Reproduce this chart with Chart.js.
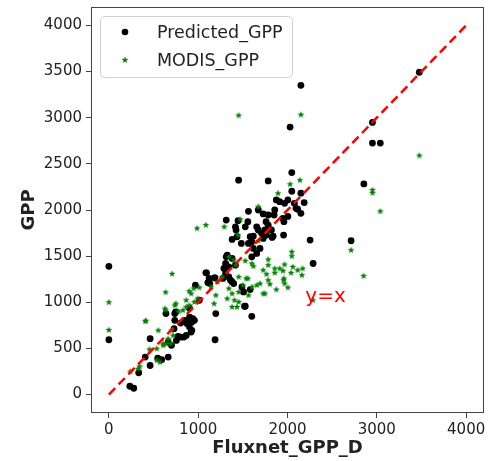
<!DOCTYPE html>
<html>
<head>
<meta charset="utf-8">
<script src="https://cdn.jsdelivr.net/npm/chart.js@4"></script>
<style>
  html, body { margin: 0; padding: 0; background: #fff; }
  canvas { display: block; }
</style>
</head>
<body>
<canvas id="scatter" width="489" height="461"></canvas>
<script>
const xTicks = [0, 1000, 2000, 3000, 4000];
const yTicks = [0, 500, 1000, 1500, 2000, 2500, 3000, 3500, 4000];
const seriesLabels = ['Predicted_GPP', 'MODIS_GPP'];
const refLine = [[0, 0], [4000, 4000]];

// Fluxnet_GPP_D vs predicted
const predictedGPP = [
  [0,1390],[0,594],[235,90],[279,68],[334,236],[407,406],[462,315],[462,605],[547,395],[591,377],[664,406],[1189,594],
  [639,877],[738,877],[738,804],[804,775],[848,804],[921,822],[958,804],[903,731],[921,677],[866,641],[811,623],[756,587],
  [701,533],[664,569],[903,840],[939,822],[730,714],[749,895],[877,768],[929,786],[929,696],[840,623],[774,630],[969,1185],
  [1013,1022],[903,935],[1197,877],
  [1093,1319],[1123,1258],[1182,1265],[1108,1214],[1086,1319],[1130,1203],[1189,1265],
  [1325,1511],[1307,1420],[1417,1402],[1343,1384],[1288,1366],[1314,1493],[1380,1475],[1307,1312],[1277,1258],[1343,1275],
  [1362,1239],[1398,1203],[1380,1221],[1490,1166],[1508,1112],[1582,1138],[1527,957],[1519,957],[1600,848],
  [1380,1681],[1483,1638],[1582,1710],[1600,1656],[1710,1747],[1728,1692],[1765,1728],[1828,1703],[1956,1728],[1435,1710],
  [1618,1717],[1839,1717],[1563,1638],[1655,1529],[1692,1584],[1618,1584],[1600,1493],
  [1417,1818],[1424,1783],[1527,1818],[1655,1818],[1673,1783],[1760,1873],[1784,1836],[1747,1783],[1820,1783],
  [1314,1891],[1446,1884],[1556,1873],[1563,1986],[1673,2000],[1728,1957],[1784,1946],[1857,2000],[1850,1946],[1949,1909],[1960,1873],
  [1875,2109],[1912,2090],[1967,2072],[2004,2109],[2077,2072],[2095,2018],[2150,1964],[2048,2203],[2114,2008],[2187,2080],[2150,2182],[2004,1930],
  [2253,1674],[2287,1420],
  [1453,2323],[1784,2315],[2048,2406],[2029,2899],[2150,3351],[2855,2283],[2951,2725],[3039,2725],[2951,2949],[3476,3493],[2712,1667]
];

// Fluxnet_GPP_D vs MODIS
const modisGPP = [
  [0,1000],[0,700],[242,250],[327,279],[345,305],[415,801],[455,489],[407,793],[554,696],[536,497],[609,551],[536,370],[573,351],
  [628,931],[635,1109],[635,913],[708,1308],[738,967],[749,986],[701,696],[719,641],[664,605],[646,551],[694,551],[609,533],
  [780,900],[829,913],[866,949],[903,967],[921,1094],[958,1003],[994,1040],[866,1022],[900,1120],[950,1150],[1013,1160],[987,1801],[1086,1837],
  [1142,1166],[1197,1076],[1178,986],[1270,1275],[1215,1221],[1343,1149],[1380,1094],[1325,1040],[1453,1003],[1435,949],[1380,949],[1406,1022],
  [1292,1818],[1446,1728],[1472,1898],[1673,2036],[1894,2181],[1673,1666],
  [1343,1493],[1398,1457],[1424,1402],[1527,1449],[1600,1420],[1618,1391],[1784,1464],[1784,1402],[1967,1410],[1857,1366],[1857,1319],
  [1912,1366],[2059,1384],[2169,1366],[2114,1348],[2161,1294],[1728,1348],[1765,1304],[1949,1341],[2040,1319],[1538,1258],[1501,1185],
  [1692,1203],[1655,1185],[1956,1239],[1967,1203],[1802,1196],[1875,1138],[2004,1160],[1728,1094],[1563,1076],[1600,1166],[1453,1112],
  [1784,1239],[1960,1258],[1556,1258],[1453,1275],[1747,1094],[2048,1547],[2048,1500],
  [2029,2279],[2139,2323],[1453,3025],[2150,3033],[2951,2217],[2951,2185],[3039,1986],[3476,2590],[2712,1565],[2852,1286],[2283,1022]
];

const FONT = 'DejaVu Sans';
const INK = '#222';

function toXY(arr) {
  return arr.map(p => ({x: p[0], y: p[1]}));
}

// filled 5 point star, matplotlib '*'
function makeStar(r, color) {
  const c = document.createElement('canvas');
  const s = Math.ceil(r * 2 + 2);
  c.width = s; c.height = s;
  const g = c.getContext('2d');
  g.fillStyle = color;
  g.beginPath();
  for (let i = 0; i < 10; i++) {
    const rad = i % 2 === 0 ? r : r * 0.42;
    const a = -Math.PI / 2 + i * Math.PI / 5;
    const px = s / 2 + rad * Math.cos(a), py = s / 2 + rad * Math.sin(a);
    if (i === 0) g.moveTo(px, py); else g.lineTo(px, py);
  }
  g.closePath();
  g.fill();
  return c;
}
const star = makeStar(3.6, '#008000');

const extras = {
  id: 'extras',
  afterDraw(chart) {
    const {ctx, chartArea: a, scales} = chart;
    ctx.save();
    // spines
    ctx.strokeStyle = '#444';
    ctx.lineWidth = 1;
    ctx.strokeRect(a.left + 0.5, a.top + 0.5, a.right - a.left - 1, a.bottom - a.top - 1);
    // y=x annotation
    ctx.fillStyle = 'red';
    ctx.font = '20px "' + FONT + '"';
    ctx.textAlign = 'left';
    ctx.textBaseline = 'alphabetic';
    ctx.fillText('y=x', scales.x.getPixelForValue(2200), scales.y.getPixelForValue(1000));
    // legend
    const bx = 100, by = 16, bw = 192, bh = 61;
    ctx.beginPath();
    ctx.roundRect(bx + 0.5, by + 0.5, bw, bh, 4);
    ctx.fillStyle = 'rgba(255,255,255,0.8)';
    ctx.fill();
    ctx.strokeStyle = '#d0d0d0';
    ctx.stroke();
    ctx.fillStyle = '#000';
    ctx.beginPath();
    ctx.arc(125, 32, 3.3, 0, Math.PI * 2);
    ctx.fill();
    ctx.drawImage(star, 125 - star.width / 2, 60 - star.height / 2);
    ctx.fillStyle = INK;
    ctx.font = '17.5px "' + FONT + '"';
    ctx.textBaseline = 'middle';
    ctx.fillText(chart.data.datasets[0].label, 157, 33);
    ctx.fillText(chart.data.datasets[1].label, 157, 61);
    ctx.restore();
  }
};

const ctx = document.getElementById('scatter');

new Chart(ctx, {
  type: 'scatter',
  data: {
    datasets: [
      {
        label: seriesLabels[0],
        data: toXY(predictedGPP),
        backgroundColor: '#000',
        borderWidth: 0,
        pointRadius: 3.4,
        order: 3
      },
      {
        label: seriesLabels[1],
        data: toXY(modisGPP),
        pointStyle: star,
        backgroundColor: '#008000',
        order: 2
      },
      {
        type: 'line',
        label: 'y=x',
        data: toXY(refLine),
        borderColor: 'red',
        borderWidth: 2.5,
        borderDash: [9, 5],
        pointRadius: 0,
        showLine: true,
        order: 1
      }
    ]
  },
  options: {
    responsive: false,
    animation: false,
    devicePixelRatio: 1,
    layout: { padding: { left: 0, right: 1, top: 7, bottom: 0 } },
    plugins: { legend: { display: false }, tooltip: { enabled: false } },
    scales: {
      x: {
        type: 'linear',
        min: -200, max: 4200,
        afterBuildTicks: s => { s.ticks = xTicks.map(v => ({value: v})); },
        afterFit: s => { s.height = 48; s.paddingLeft = 0; s.paddingRight = 0; },
        border: { display: false },
        grid: { drawOnChartArea: false, drawTicks: true, tickLength: 5, color: '#444' },
        ticks: { color: INK, padding: 3, maxRotation: 0, font: { family: FONT, size: 15 },
                 callback: v => String(v) },
        title: { display: true, text: 'Fluxnet_GPP_D', color: INK, padding: { top: 0, bottom: 2 },
                 font: { family: FONT, size: 18, weight: 'bold' } }
      },
      y: {
        type: 'linear',
        min: -200, max: 4200,
        afterBuildTicks: s => { s.ticks = yTicks.map(v => ({value: v})); },
        afterFit: s => { s.width = 91; s.paddingTop = 0; s.paddingBottom = 0; },
        border: { display: false },
        grid: { drawOnChartArea: false, drawTicks: true, tickLength: 5, color: '#444' },
        ticks: { color: INK, padding: 4, font: { family: FONT, size: 15 },
                 callback: v => String(v) },
        title: { display: true, text: 'GPP', color: INK, padding: { top: 19, bottom: 0 },
                 font: { family: FONT, size: 18, weight: 'bold' } }
      }
    }
  },
  plugins: [extras]
});
</script>
</body>
</html>
